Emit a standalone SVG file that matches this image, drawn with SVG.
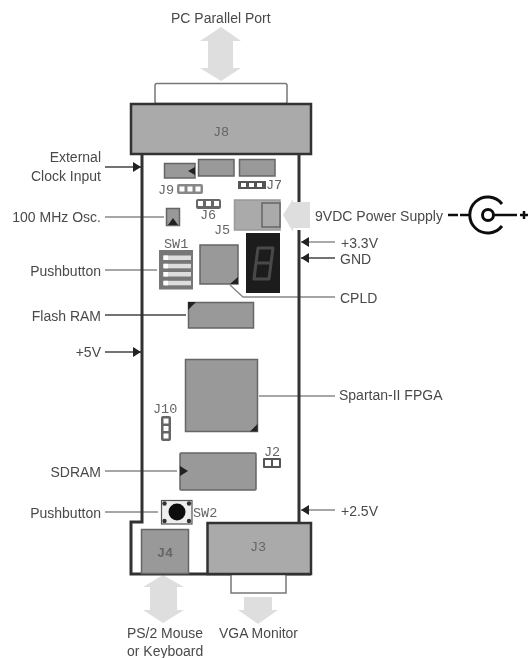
<svg xmlns="http://www.w3.org/2000/svg" width="531" height="658" viewBox="0 0 531 658">
<style>
text{font-family:"Liberation Sans",Arial,sans-serif;font-size:14px;fill:#4a4a4a}
.r{text-anchor:end}
.m{text-anchor:middle}
.j{font-family:"Liberation Mono","Courier New",monospace;font-size:13.5px;fill:#666}
.b{fill:#999;stroke:#666;stroke-width:1.5}
.big{fill:#aaa;stroke:#333;stroke-width:2.5}
.ar{fill:#dedede}
.ln{stroke:#888;stroke-width:1.4;fill:none}
.dk{stroke:#444}
.bd{stroke:#333;stroke-width:3;fill:none}
.mk{fill:#222}
.w{fill:#fff}
</style>
<defs>
<marker id="a" markerWidth="8" markerHeight="10" refX="8" refY="5" orient="auto" markerUnits="userSpaceOnUse"><path d="M0 0L8 5L0 10Z" fill="#222"/></marker>
<filter id="soft" x="0" y="0" width="100%" height="100%"><feGaussianBlur stdDeviation="0.45"/></filter>
</defs>
<g filter="url(#soft)">
<rect width="531" height="658" fill="#fff"/>
<g id="connectors">
<path class="ar" d="M221 27L241 41H233V68H241L221 81L200 68H208V41H200Z"/>
<path class="ar" d="M163 575L184 587H177V610H184L163 623L143 610H150V587H143Z"/>
<path class="ar" d="M244 597H272V610H278L258 624L238 610H244Z"/>
<path class="ln dk" d="M105 167H141" marker-end="url(#a)"/>
<path class="ln" d="M105 217H164"/>
<path class="ln" d="M105 270H157"/>
<path class="ln dk" d="M105 315H186"/>
<path class="ln dk" d="M105 352H141" marker-end="url(#a)"/>
<path class="ln" d="M105 471H177"/>
<path class="ln" d="M105 512H158"/>
<path class="ln" style="stroke:#aaa;stroke-width:2" d="M335 242H301" marker-end="url(#a)"/>
<path class="ln dk" d="M335 258H301" marker-end="url(#a)"/>
<path class="ln" d="M335 297H243L230 285"/>
<path class="ln" d="M335 396H259"/>
<path class="ln" d="M335 510H301" marker-end="url(#a)"/>
</g>
<g id="board">
<path class="bd" d="M142 154V522H131V574H311"/>
<path class="bd" d="M299 154V202M299 230V523"/>
<rect x="155" y="83.500" width="132" height="20" rx="2" fill="#fff" stroke="#777" stroke-width="1.500"/>
<rect x="231" y="574" width="55" height="19" fill="#fff" stroke="#777" stroke-width="1.500"/>
<path class="ar" d="M283 215L293 199V202H310V228H293V232Z"/>
</g>
<g id="J8"><rect class="big" x="131" y="104" width="180" height="50"/><text class="j m" x="221" y="136">J8</text></g>
<g id="J3"><rect class="big" x="207.500" y="523" width="103.500" height="51"/><text class="j m" x="258" y="551">J3</text></g>
<g id="J4"><rect class="b" x="141.500" y="529.500" width="47" height="44"/><text class="j m" x="165" y="557" style="font-weight:bold">J4</text></g>
<g id="parts">
<rect class="b" x="164.500" y="163.500" width="30.500" height="14.500"/><path class="mk" d="M188 171L195 167V175Z"/>
<rect class="b" x="198.500" y="159.500" width="35.500" height="16.500"/>
<rect class="b" x="239.500" y="159.500" width="35.500" height="16.500"/>
</g>
<g id="J9"><rect x="177" y="184" width="26" height="10" rx="2" fill="#888"/><rect class="w" x="179.500" y="186.500" width="5" height="5"/><rect class="w" x="187.500" y="186.500" width="5" height="5"/><rect class="w" x="195.500" y="186.500" width="5" height="5"/><text class="j" x="158" y="194">J9</text></g>
<g id="J7"><rect x="238" y="181" width="28" height="8" fill="#555"/><rect class="w" x="241" y="183" width="5" height="4"/><rect class="w" x="249" y="183" width="5" height="4"/><rect class="w" x="257" y="183" width="5" height="4"/><text class="j" x="266" y="189">J7</text></g>
<g id="J6"><rect x="196" y="199" width="25" height="10" rx="2" fill="#666"/><rect class="w" x="198" y="201" width="5" height="5"/><rect class="w" x="206" y="201" width="5" height="5"/><rect class="w" x="214" y="201" width="5" height="5"/><text class="j" x="200" y="219">J6</text></g>
<g id="osc"><rect class="b" x="166.500" y="208.500" width="13" height="17"/><path class="mk" d="M173 218L178 225H168Z"/></g>
<g id="J5"><rect fill="#aaa" stroke="#999" stroke-width="1.500" x="234.500" y="200" width="45.500" height="30"/><rect fill="#aaa" stroke="#666" stroke-width="1.500" x="262" y="203" width="18" height="24"/><text class="j" x="214" y="234">J5</text></g>
<g id="SW1"><rect x="159" y="250" width="34" height="39.500" fill="#777"/>
<rect x="163" y="255.500" width="28" height="4.500" fill="#ddd"/><rect x="163" y="263.800" width="28" height="4.500" fill="#ddd"/><rect x="163" y="272" width="28" height="4.500" fill="#ddd"/><rect x="163" y="280.800" width="28" height="4.500" fill="#ddd"/>
<rect class="w" x="164" y="255.500" width="4" height="4.500"/><rect class="w" x="164" y="263.800" width="4" height="4.500"/><rect class="w" x="164" y="272" width="4" height="4.500"/><rect class="w" x="164" y="280.800" width="4" height="4.500"/><text class="j" x="164" y="248">SW1</text></g>
<g id="cpld"><rect class="b" x="200" y="245" width="38" height="39"/><path class="mk" d="M238 277V284H230Z"/></g>
<g id="digit"><rect x="246" y="233" width="34" height="60" fill="#1c1c1c"/><path d="M258 248H273L271 263H256ZM256 263H271L269 279H254Z" fill="none" stroke="#4a4a4a" stroke-width="3" stroke-linejoin="round"/></g>
<g id="flash"><rect class="b" x="188.500" y="302.500" width="65" height="25.500"/><path class="mk" d="M188 302H196L188 310Z"/></g>
<g id="fpga"><rect class="b" x="185.500" y="359.500" width="72" height="72"/><path class="mk" d="M257.500 424V431.500H250Z"/></g>
<g id="J10"><rect x="161" y="416" width="10" height="25" rx="2" fill="#666"/><rect class="w" x="163.500" y="418.500" width="5" height="5"/><rect class="w" x="163.500" y="426" width="5" height="5"/><rect class="w" x="163.500" y="433.500" width="5" height="5"/><text class="j" x="153" y="413">J10</text></g>
<g id="sdram"><rect class="b" x="180" y="453" width="76" height="37" rx="1"/><path class="mk" d="M180 466L188 471L180 476Z"/></g>
<g id="J2"><rect x="263" y="458" width="18" height="10" rx="1" fill="#555"/><rect class="w" x="265" y="460" width="6" height="6"/><rect class="w" x="273" y="460" width="6" height="6"/><text class="j" x="264" y="456">J2</text></g>
<g id="SW2"><rect x="161.500" y="500.500" width="30.500" height="23.500" fill="#eee" stroke="#555" stroke-width="1.200"/><circle cx="177" cy="512" r="8.500" fill="#111"/><circle cx="164.500" cy="503.500" r="2.200" fill="#333"/><circle cx="189" cy="503.500" r="2.200" fill="#333"/><circle cx="164.500" cy="521" r="2.200" fill="#333"/><circle cx="189" cy="521" r="2.200" fill="#333"/><text class="j" x="193" y="517">SW2</text></g>
<g id="jack"><path d="M502 204A18 18 0 1 0 502 226" fill="none" stroke="#111" stroke-width="3"/><circle cx="488" cy="215" r="5.500" fill="none" stroke="#111" stroke-width="3"/><path d="M448 215H458M460 215H471M494 215H517M520 215H528M524 211V219" fill="none" stroke="#111" stroke-width="2.500"/></g>
<g id="labels">
<text x="171" y="23">PC Parallel Port</text>
<text class="r" x="101" y="162">External</text>
<text class="r" x="101" y="181">Clock Input</text>
<text class="r" x="101" y="222">100 MHz Osc.</text>
<text class="r" x="101" y="276">Pushbutton</text>
<text class="r" x="101" y="321">Flash RAM</text>
<text class="r" x="101" y="357">+5V</text>
<text class="r" x="101" y="477">SDRAM</text>
<text class="r" x="101" y="518">Pushbutton</text>
<text x="315" y="221" textLength="128" lengthAdjust="spacingAndGlyphs">9VDC Power Supply</text>
<text x="341" y="248">+3.3V</text>
<text x="340" y="264">GND</text>
<text x="340" y="303">CPLD</text>
<text x="339" y="400">Spartan-II FPGA</text>
<text x="341" y="516">+2.5V</text>
<text x="127" y="638" textLength="76" lengthAdjust="spacingAndGlyphs">PS/2 Mouse</text>
<text x="127" y="656">or Keyboard</text>
<text x="219" y="638" textLength="79" lengthAdjust="spacingAndGlyphs">VGA Monitor</text>
</g>
</g>
</svg>
